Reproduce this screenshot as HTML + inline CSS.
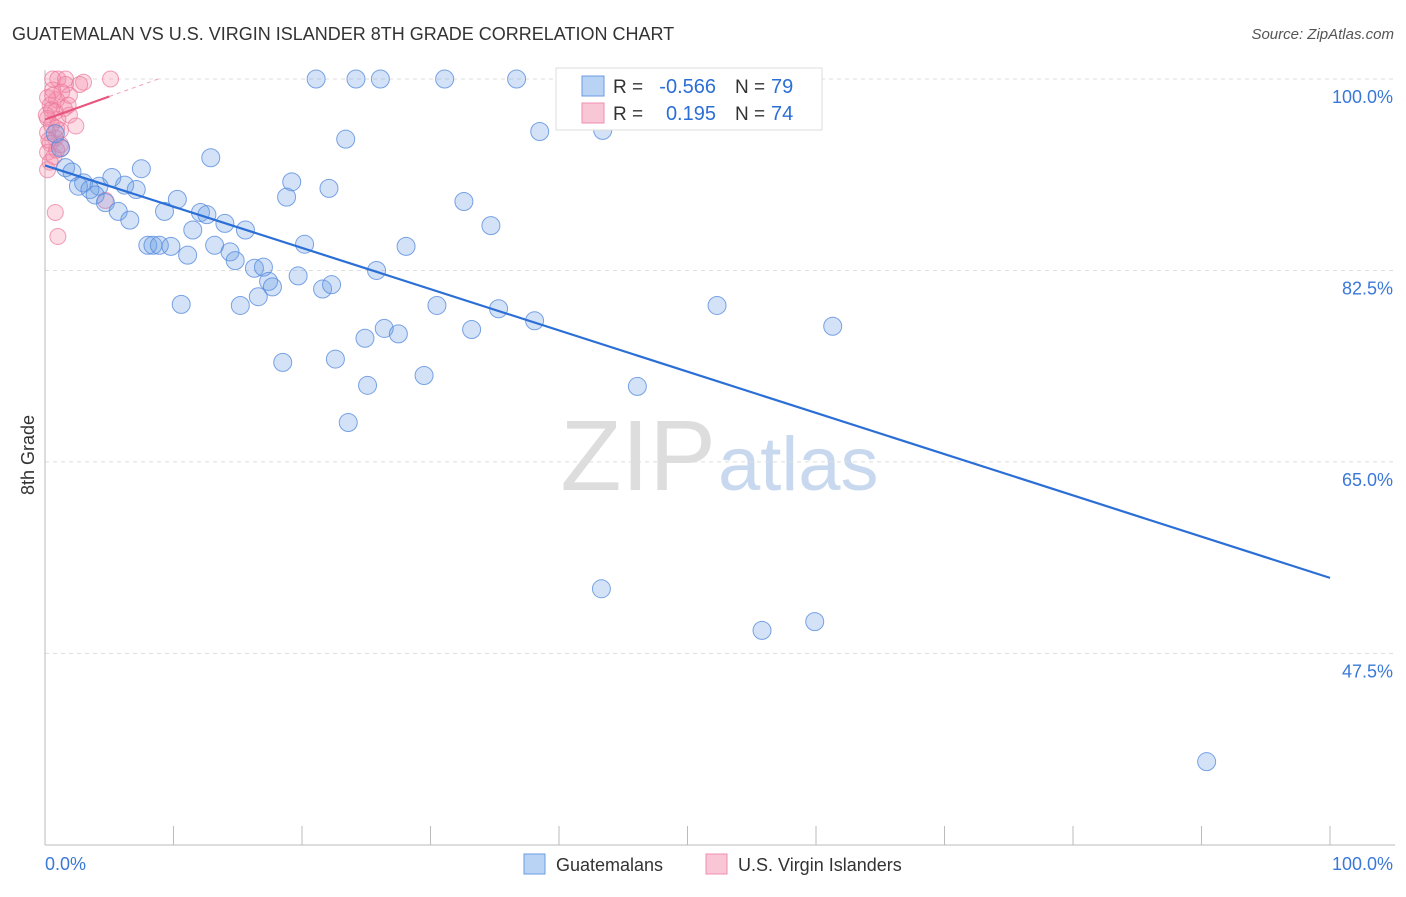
<!DOCTYPE html>
<html><head><meta charset="utf-8"><style>
body{margin:0;background:#fff;font-family:"Liberation Sans",sans-serif}
svg text{font-family:"Liberation Sans",sans-serif}
</style></head><body>
<svg id="chart" width="1406" height="892">
<text x="12" y="40" font-size="18" fill="#333">GUATEMALAN VS U.S. VIRGIN ISLANDER 8TH GRADE CORRELATION CHART</text>
<text x="1394" y="39" font-size="15" fill="#555" font-style="italic" text-anchor="end">Source: ZipAtlas.com</text>
<g>
<text x="716" y="490" font-size="100" fill="#ddd" text-anchor="end" font-family="Liberation Serif">ZIP</text>
<text x="718" y="490" font-size="76" fill="#c8d8ee">atlas</text>
</g>
<text transform="translate(34,455) rotate(-90)" font-size="18" fill="#333" text-anchor="middle">8th Grade</text>
<g id="grid"></g><g id="axes"></g><g id="pts"></g><g id="trend"></g>
<g>
<rect x="556" y="68" width="266" height="62" fill="#fff" stroke="#ddd"/>
<rect x="582" y="76" width="22" height="20" fill="#b9d3f5" stroke="#6a9be0"/>
<rect x="582" y="103" width="22" height="20" fill="#f9c6d6" stroke="#ee8fae"/>
<text x="613" y="93" font-size="19" fill="#333">R =</text>
<text x="716" y="93" font-size="20" fill="#2b6fd6" text-anchor="end">-0.566</text>
<text x="735" y="93" font-size="19" fill="#333">N =</text>
<text x="771" y="93" font-size="20" fill="#2b6fd6">79</text>
<text x="613" y="120" font-size="19" fill="#333">R =</text>
<text x="716" y="120" font-size="20" fill="#2b6fd6" text-anchor="end">0.195</text>
<text x="735" y="120" font-size="19" fill="#333">N =</text>
<text x="771" y="120" font-size="20" fill="#2b6fd6">74</text>
</g>
<g>
<rect x="524" y="854" width="21" height="20" fill="#b9d3f5" stroke="#6a9be0"/>
<text x="556" y="871" font-size="18" fill="#333">Guatemalans</text>
<rect x="706" y="854" width="21" height="20" fill="#f9c6d6" stroke="#ee8fae"/>
<text x="738" y="871" font-size="18" fill="#333">U.S. Virgin Islanders</text>
</g>
</svg>
<script>
const blueX=[21.1,24.2,26.1,31.1,36.7,58.5,38.5,43.4,23.4,12.9,7.5,1.6,2.1,5.2,3.0,2.6,4.2,6.2,7.1,3.5,3.9,4.7,5.7,9.3,10.3,12.1,12.6,6.6,14.0,15.6,11.5,19.2,18.8,22.1,32.6,34.7,8.0,8.4,8.9,9.8,11.1,13.2,14.4,14.8,16.3,17.0,17.4,17.7,16.6,15.2,10.6,19.7,20.2,21.6,22.3,25.8,28.1,30.5,35.3,38.1,52.3,61.3,33.2,26.4,27.5,24.9,18.5,22.6,25.1,29.5,46.1,23.6,43.3,55.8,59.9,90.4,1.2,0.8];
const blueY=[100,100,100,100,100,100,95.2,95.3,94.5,92.8,91.8,91.9,91.5,91.0,90.5,90.2,90.2,90.3,89.9,89.9,89.4,88.7,87.9,87.9,89.0,87.8,87.6,87.1,86.8,86.2,86.2,90.6,89.2,90.0,88.8,86.6,84.8,84.8,84.8,84.7,83.9,84.8,84.2,83.4,82.7,82.8,81.5,81.0,80.1,79.3,79.4,82.0,84.9,80.8,81.2,82.5,84.7,79.3,79.0,77.9,79.3,77.4,77.1,77.2,76.7,76.3,74.1,74.4,72.0,72.9,71.9,68.6,53.4,49.6,50.4,37.6,93.7,95.0];
const pinkX=[0.6,1.0,1.6,3.0,5.1,1.6,0.6,1.3,1.9,0.9,0.4,1.5,0.8,1.9,0.2,1.0,2.4,0.5,1.2,0.2,0.8,0.4,1.3,0.2,0.7,0.4,0.2,0.8,1.0,4.7,0.2,0.5,0.9,0.3,1.2,0.6,2.7,1.8,0.1,0.9];
const pinkY=[100,100,100,99.7,100,99.5,99.0,98.8,98.5,98.1,97.6,97.3,97.0,96.7,96.4,96.3,95.7,95.8,95.3,95.1,94.6,94.1,93.7,93.3,92.9,92.4,91.7,87.8,85.6,88.9,98.3,97.2,95.5,94.4,94.0,98.5,99.5,97.6,96.7,93.5];
const yTicks=[100,82.5,65,47.5];
const yTickLabels=["100.0%","82.5%","65.0%","47.5%"];
const blueTrend=[[0,92.1],[100,54.4]];
const pinkTrend=[[0,96.3],[5,98.4]];
const NS="http://www.w3.org/2000/svg";
const sx=v=>45+v*12.85, sy=v=>79+(100-v)*10.94;
function mk(t,a,p){const e=document.createElementNS(NS,t);for(const k in a)e.setAttribute(k,a[k]);document.getElementById(p).appendChild(e);return e;}
yTicks.forEach((t,i)=>{
 const l=mk('line',{x1:45,x2:1395,y1:sy(t),y2:sy(t),stroke:'#ddd','stroke-dasharray':'4,4'},'grid');
 
 
 const tx=mk('text',{x:1393,y:sy(t)+24,'font-size':18,fill:'#3a78d8','text-anchor':'end'},'grid');tx.textContent=yTickLabels[i];
 
 
});
mk('line',{x1:45,x2:45,y1:70,y2:845,stroke:'#bbb'},'axes');
mk('line',{x1:45,x2:1395,y1:845,y2:845,stroke:'#bbb'},'axes');
for(let i=0;i<=10;i++){const t=mk('line',{x1:sx(i*10),x2:sx(i*10),y1:826,y2:845,stroke:'#bbb'},'axes');
 
 }
const x0=mk('text',{x:45,y:870,'font-size':18,fill:'#3a78d8'},'axes');x0.textContent='0.0%';


const x1=mk('text',{x:1393,y:870,'font-size':18,fill:'#3a78d8','text-anchor':'end'},'axes');x1.textContent='100.0%';


pinkX.forEach((v,i)=>{const c=mk('circle',{cx:sx(v),cy:sy(pinkY[i]),r:8,fill:'rgba(244,140,170,0.3)',stroke:'rgba(235,120,155,0.7)'},'pts');
 
 });
blueX.forEach((v,i)=>{const c=mk('circle',{cx:sx(v),cy:sy(blueY[i]),r:9,fill:'rgba(110,160,230,0.3)',stroke:'rgba(80,135,220,0.75)'},'pts');
 
 });
const bt=mk('line',{x1:sx(blueTrend[0][0]),y1:sy(blueTrend[0][1]),x2:sx(blueTrend[1][0]),y2:sy(blueTrend[1][1]),stroke:'#2b6fd6','stroke-width':2.2},'trend');


const slope=(pinkTrend[1][1]-pinkTrend[0][1])/(pinkTrend[1][0]-pinkTrend[0][0]);
const xe=(100-pinkTrend[0][1])/slope;
const pd=mk('line',{x1:sx(pinkTrend[1][0]),y1:sy(pinkTrend[1][1]),x2:sx(xe),y2:sy(100),stroke:'#f0a0b8','stroke-dasharray':'4,4'},'trend');


const pt=mk('line',{x1:sx(pinkTrend[0][0]),y1:sy(pinkTrend[0][1]),x2:sx(pinkTrend[1][0]),y2:sy(pinkTrend[1][1]),stroke:'#e8557f','stroke-width':2.2},'trend');


</script>
</body></html>
